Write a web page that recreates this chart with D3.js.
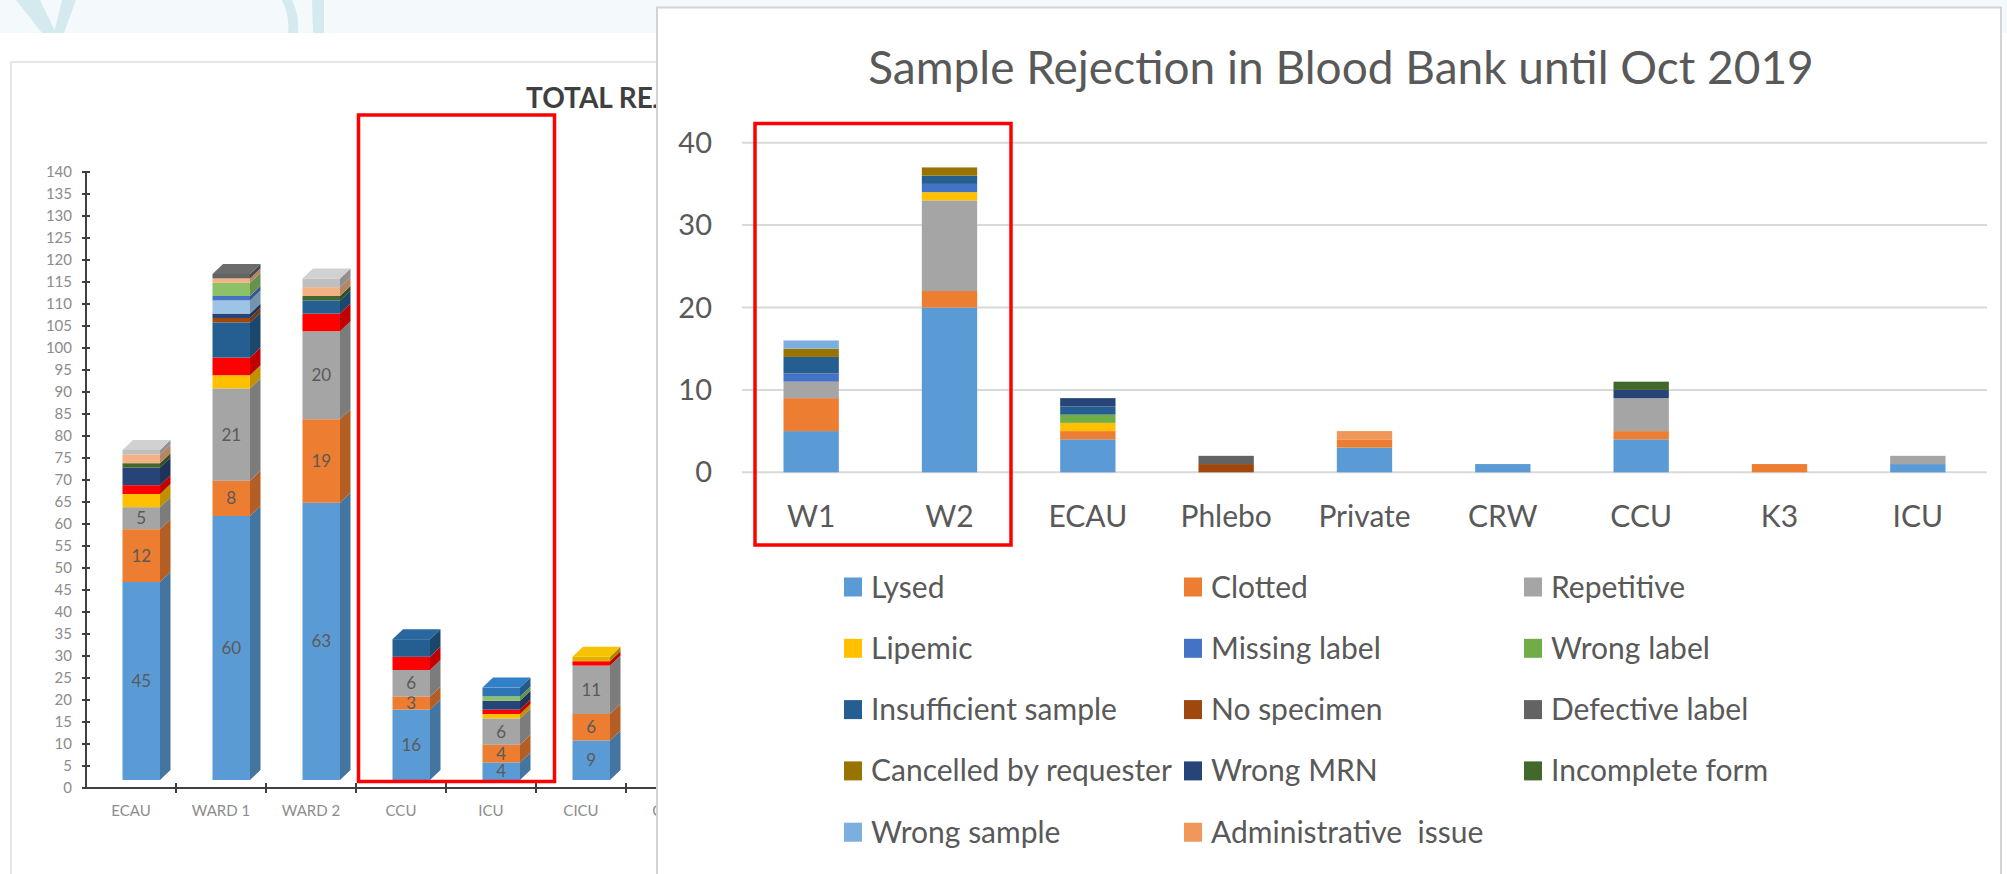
<!DOCTYPE html>
<html>
<head>
<meta charset="utf-8">
<script src="https://cdn.jsdelivr.net/npm/d3@7"></script>
<style>
  html, body { margin: 0; padding: 0; background: #fff; }
  svg { display: block; font-family: Lato, "Open Sans", sans-serif; }
</style>
</head>
<body>
<svg id="chart" width="2007" height="874"></svg>
<script>
// ---- background slide chart (3D, partly covered) ----
var leftCats = ["ECAU", "WARD 1", "WARD 2", "CCU", "ICU", "CICU", "CSSD"];
var leftTicks = d3.range(0, 145, 5);
var leftLysed        = [45, 60, 63, 16, 4, 9, 0];
var leftClotted      = [12, 8, 19, 3, 4, 6, 0];
var leftRepetitive   = [5, 21, 20, 6, 6, 11, 0];
var leftLipemic      = [3, 3, 0, 0, 1, 0, 0];
var leftUnlabelled   = [2, 4, 4, 3, 1, 1, 0];
var leftInsufficient = [0, 8, 3, 4, 0, 0, 0];
var leftNoSpecimen   = [0, 1, 0, 0, 0, 0, 0];
var leftWrongMRN     = [4, 1, 0, 0, 2, 0, 0];
var leftWrongSample  = [0, 3, 0, 0, 0, 0, 0];
var leftMissingLabel = [0, 1, 0, 0, 0, 0, 0];
var leftWrongLabel   = [0, 3, 0, 0, 1, 0, 0];
var leftWrongPatient = [0, 0, 0, 0, 2, 0, 0];
var leftIncomplete   = [1, 0, 1, 0, 0, 0, 0];
var leftAdmin        = [2, 1, 2, 0, 0, 0, 0];
var leftOther        = [1, 0, 2, 0, 0, 0, 0];
var leftDefective    = [0, 1, 0, 0, 0, 0, 0];
var leftCancelled    = [0, 0, 0, 0, 0, 1, 0];

// ---- foreground chart ----
var categories = ["W1", "W2", "ECAU", "Phlebo", "Private", "CRW", "CCU", "K3", "ICU"];
var yTicks = [0, 10, 20, 30, 40];
var lysed        = [5, 20, 4, 0, 3, 1, 4, 0, 1];
var clotted      = [4, 2, 1, 0, 1, 0, 1, 1, 0];
var repetitive   = [2, 11, 0, 0, 0, 0, 4, 0, 1];
var lipemic      = [0, 1, 1, 0, 0, 0, 0, 0, 0];
var missingLabel = [1, 1, 0, 0, 0, 0, 0, 0, 0];
var wrongLabel   = [0, 0, 1, 0, 0, 0, 0, 0, 0];
var insufficient = [2, 1, 1, 0, 0, 0, 0, 0, 0];
var noSpecimen   = [0, 0, 0, 1, 0, 0, 0, 0, 0];
var defective    = [0, 0, 0, 1, 0, 0, 0, 0, 0];
var cancelled    = [1, 1, 0, 0, 0, 0, 0, 0, 0];
var wrongMRN     = [0, 0, 1, 0, 0, 0, 1, 0, 0];
var incomplete   = [0, 0, 0, 0, 0, 0, 1, 0, 0];
var wrongSample  = [1, 0, 0, 0, 0, 0, 0, 0, 0];
var adminIssue   = [0, 0, 0, 0, 1, 0, 0, 0, 0];

var leftSeries = [
  {key: "Lysed", color: "#5B9BD5", values: leftLysed, label: true},
  {key: "Clotted", color: "#ED7D31", values: leftClotted, label: true},
  {key: "Repetitive", color: "#A5A5A5", values: leftRepetitive, label: true},
  {key: "Lipemic", color: "#FFC000", values: leftLipemic},
  {key: "Unlabelled", color: "#FF0000", values: leftUnlabelled},
  {key: "Insufficient", color: "#255E91", values: leftInsufficient},
  {key: "No specimen", color: "#9E480E", values: leftNoSpecimen},
  {key: "Wrong MRN", color: "#264478", values: leftWrongMRN},
  {key: "Wrong sample", color: "#9DC3E6", values: leftWrongSample},
  {key: "Missing label", color: "#4472C4", values: leftMissingLabel},
  {key: "Wrong label", color: "#8CC168", values: leftWrongLabel},
  {key: "Wrong patient", color: "#2E75B6", values: leftWrongPatient},
  {key: "Incomplete", color: "#43682B", values: leftIncomplete},
  {key: "Admin", color: "#F4B183", values: leftAdmin},
  {key: "Other", color: "#BFBFBF", values: leftOther},
  {key: "Defective", color: "#636363", values: leftDefective},
  {key: "Cancelled", color: "#E2B100", values: leftCancelled}
];

var series = [
  {key: "Lysed", color: "#5B9BD5", values: lysed},
  {key: "Clotted", color: "#ED7D31", values: clotted},
  {key: "Repetitive", color: "#A5A5A5", values: repetitive},
  {key: "Lipemic", color: "#FFC000", values: lipemic},
  {key: "Missing label", color: "#4472C4", values: missingLabel},
  {key: "Wrong label", color: "#70AD47", values: wrongLabel},
  {key: "Insufficient sample", color: "#255E91", values: insufficient},
  {key: "No specimen", color: "#9E480E", values: noSpecimen},
  {key: "Defective label", color: "#636363", values: defective},
  {key: "Cancelled by requester", color: "#997300", values: cancelled},
  {key: "Wrong MRN", color: "#264478", values: wrongMRN},
  {key: "Incomplete form", color: "#43682B", values: incomplete},
  {key: "Wrong sample", color: "#7CAFDD", values: wrongSample},
  {key: "Administrative  issue", color: "#F1975A", values: adminIssue}
];

function toRows(cats, list) {
  return cats.map(function(c, i) {
    var row = {cat: c};
    list.forEach(function(s) { row[s.key] = s.values[i]; });
    return row;
  });
}

var svg = d3.select("#chart");

// slide background strip with the pale decoration
svg.append("rect").attr("x", 0).attr("y", 0).attr("width", 2007).attr("height", 33).attr("fill", "#F4FAFC");
var deco = svg.append("g").attr("fill", "#D5EAEF");
deco.append("path").attr("d", "M16,0 L40,0 L56,33 L42,33 Z");
deco.append("path").attr("d", "M62,0 L76,0 L64,33 L54,33 Z");
deco.append("path").attr("d", "M282,0 L292,0 Q300,16 298,33 L288,33 Q290,16 282,0 Z");
deco.append("path").attr("d", "M312,0 L324,0 L324,33 L313,33 Z");

// ---------- left 3D chart ----------
var left = svg.append("g");
left.append("rect").attr("x", 11).attr("y", 62).attr("width", 700).attr("height", 830)
    .attr("fill", "#fff").attr("stroke", "#E6E6E6").attr("stroke-width", 2);

left.append("text").attr("x", 526).attr("y", 108)
    .attr("font-size", 28).attr("font-weight", "bold").attr("fill", "#3F3F3F")
    .text("TOTAL REJECTION");

var xL = d3.scaleBand().domain(leftCats).range([86, 86 + 90 * leftCats.length]);
var yAxisL = d3.scaleLinear().domain([0, 140]).range([788, 172]);
var floorShift = 8, depthX = 10.5, depthY = 10, frontOffset = 36.5, frontW = 37.5;
var yL = function(v) { return yAxisL(v) - floorShift; };

var leftRows = toRows(leftCats, leftSeries);
var leftStack = d3.stack().keys(leftSeries.map(function(s) { return s.key; }))(leftRows);

// y axis with crossing ticks
var axisL = left.append("g").attr("stroke", "#404040").attr("stroke-width", 2);
axisL.append("line").attr("x1", 86).attr("x2", 86).attr("y1", yAxisL(140)).attr("y2", yAxisL(0));
axisL.selectAll("line.tk").data(leftTicks).enter().append("line").attr("class", "tk")
    .attr("x1", 82).attr("x2", 90)
    .attr("y1", function(d) { return yAxisL(d); }).attr("y2", function(d) { return yAxisL(d); });
left.selectAll("text.ytk").data(leftTicks).enter().append("text").attr("class", "ytk")
    .attr("x", 72).attr("y", function(d) { return yAxisL(d); }).attr("dy", "0.35em")
    .attr("text-anchor", "end").attr("font-size", 15).attr("fill", "#8C8C8C")
    .text(function(d) { return d; });

// x axis
axisL.append("line").attr("x1", 86).attr("x2", 716).attr("y1", 788).attr("y2", 788);
axisL.selectAll("line.xtk").data(leftCats).enter().append("line").attr("class", "xtk")
    .attr("x1", function(d) { return xL(d) + xL.bandwidth(); })
    .attr("x2", function(d) { return xL(d) + xL.bandwidth(); })
    .attr("y1", 783).attr("y2", 793);
left.selectAll("text.xcat").data(leftCats).enter().append("text").attr("class", "xcat")
    .attr("x", function(d) { return xL(d) + 45; }).attr("y", 816)
    .attr("text-anchor", "middle").attr("font-size", 15).attr("fill", "#8C8C8C")
    .text(function(d) { return d; });

// top-most series per bar, for the lid of each 3D column
var topIndex = leftCats.map(function(c, i) {
  var t = -1;
  leftSeries.forEach(function(s, k) { if (s.values[i] > 0) t = k; });
  return t;
});

leftStack.forEach(function(layer, k) {
  var col = leftSeries[k].color;
  var g = left.append("g");
  layer.forEach(function(d, i) {
    if (d[1] - d[0] <= 0) return;
    var x0 = xL(leftCats[i]) + frontOffset, x1 = x0 + frontW;
    var yb = yL(d[0]), yt = yL(d[1]);
    g.append("polygon")
        .attr("points", [[x1, yb], [x1 + depthX, yb - depthY], [x1 + depthX, yt - depthY], [x1, yt]].join(" "))
        .attr("fill", d3.color(col).darker(0.8));
    g.append("rect").attr("x", x0).attr("y", yt).attr("width", frontW).attr("height", yb - yt)
        .attr("fill", col);
    if (topIndex[i] === k) {
      g.append("polygon")
          .attr("points", [[x0, yt], [x0 + depthX, yt - depthY], [x1 + depthX, yt - depthY], [x1, yt]].join(" "))
          .attr("fill", d3.color(col).brighter(0.25));
    }
    if (leftSeries[k].label && d[1] - d[0] >= 3) {
      g.append("text").attr("x", (x0 + x1) / 2).attr("y", (yb + yt) / 2).attr("dy", "0.35em")
          .attr("text-anchor", "middle").attr("font-size", 17).attr("fill", "#5A5A5A")
          .text(d[1] - d[0]);
    }
  });
});

// highlight box on the old chart
left.append("rect").attr("x", 358.5).attr("y", 115).attr("width", 196).attr("height", 666.5)
    .attr("fill", "none").attr("stroke", "#FF0000").attr("stroke-width", 3.5);

// ---------- foreground chart ----------
var panel = svg.append("g");
panel.append("rect").attr("x", 657).attr("y", 7.5).attr("width", 1344).attr("height", 880)
    .attr("fill", "#fff").attr("stroke", "#D4D4D4").attr("stroke-width", 2);

panel.append("text").attr("x", 1341).attr("y", 84).attr("text-anchor", "middle")
    .attr("font-size", 46).attr("fill", "#595959")
    .text("Sample Rejection in Blood Bank until Oct 2019");

var x = d3.scaleBand().domain(categories).range([742, 1987]).paddingInner(0.6).paddingOuter(0.3);
var y = d3.scaleLinear().domain([0, 40]).range([472.3, 142.7]);

panel.selectAll("line.grid").data(yTicks).enter().append("line").attr("class", "grid")
    .attr("x1", 742).attr("x2", 1987)
    .attr("y1", function(d) { return y(d); }).attr("y2", function(d) { return y(d); })
    .attr("stroke", "#D9D9D9").attr("stroke-width", 2);

panel.selectAll("text.ylab").data(yTicks).enter().append("text").attr("class", "ylab")
    .attr("x", 712).attr("y", function(d) { return y(d); }).attr("dy", "0.35em")
    .attr("text-anchor", "end").attr("font-size", 29).attr("fill", "#595959")
    .text(function(d) { return d; });

panel.selectAll("text.xlab").data(categories).enter().append("text").attr("class", "xlab")
    .attr("x", function(d) { return x(d) + x.bandwidth() / 2; }).attr("y", 516).attr("dy", "0.35em")
    .attr("text-anchor", "middle").attr("font-size", 30).attr("fill", "#595959")
    .text(function(d) { return d; });

var stacked = d3.stack().keys(series.map(function(s) { return s.key; }))(toRows(categories, series));

panel.selectAll("g.layer").data(stacked).enter().append("g").attr("class", "layer")
    .attr("fill", function(d, i) { return series[i].color; })
  .selectAll("rect").data(function(d) { return d; }).enter().append("rect")
    .attr("x", function(d) { return x(d.data.cat); })
    .attr("y", function(d) { return y(d[1]); })
    .attr("width", x.bandwidth())
    .attr("height", function(d) { return y(d[0]) - y(d[1]); });

// legend, three columns
var legend = panel.append("g").attr("font-size", 30).attr("fill", "#595959");
series.forEach(function(s, i) {
  var lx = 844 + (i % 3) * 340, ly = 587 + Math.floor(i / 3) * 61.3;
  legend.append("rect").attr("x", lx).attr("y", ly - 9.5).attr("width", 18).attr("height", 19)
      .attr("fill", s.color);
  legend.append("text").attr("x", lx + 27).attr("y", ly).attr("dy", "0.35em")
      .style("white-space", "pre").text(s.key);
});

// highlight box on the new chart
panel.append("rect").attr("x", 755).attr("y", 123.5).attr("width", 256).attr("height", 421.5)
    .attr("fill", "none").attr("stroke", "#FF0000").attr("stroke-width", 3.5);
</script>
</body>
</html>
